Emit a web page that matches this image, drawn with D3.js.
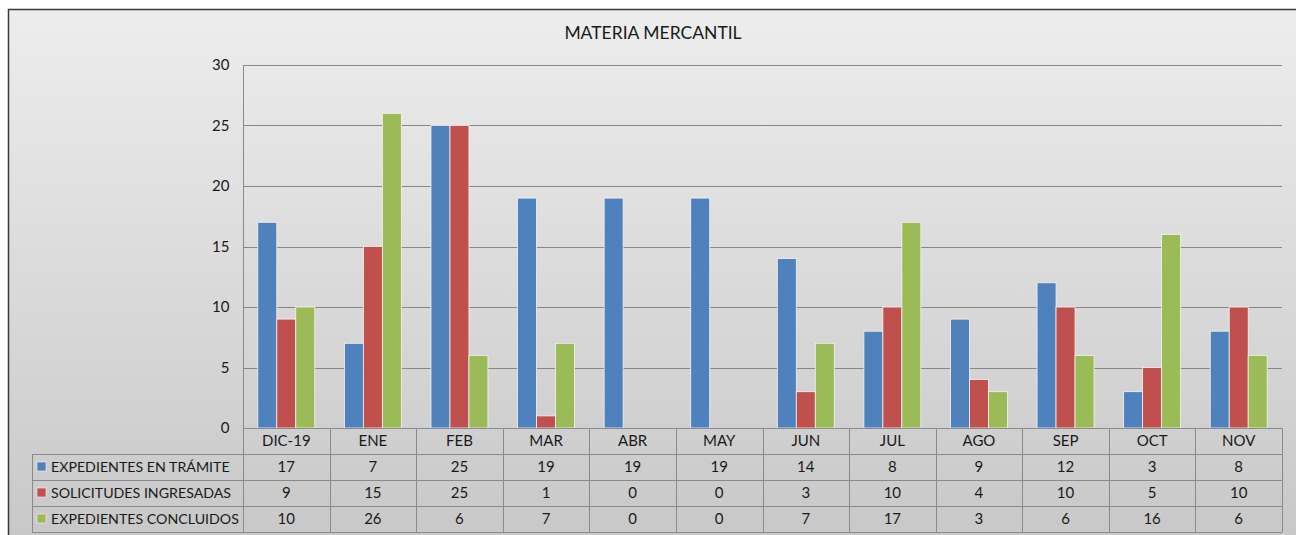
<!DOCTYPE html>
<html>
<head>
<meta charset="utf-8">
<script src="https://cdn.jsdelivr.net/npm/d3@7"></script>
<style>
  body { margin: 0; background: #fff; }
  text { font-family: Lato, "Open Sans", sans-serif; fill: #1a1a1a; }
</style>
</head>
<body>
<div id="chart"></div>
<script>
// chart data
const months = ['DIC-19', 'ENE', 'FEB', 'MAR', 'ABR', 'MAY', 'JUN', 'JUL', 'AGO', 'SEP', 'OCT', 'NOV'];
const seriesNames = ['EXPEDIENTES EN TRÁMITE', 'SOLICITUDES INGRESADAS', 'EXPEDIENTES CONCLUIDOS'];
const enTramite = [17, 7, 25, 19, 19, 19, 14, 8, 9, 12, 3, 8];
const ingresadas = [9, 15, 25, 1, 0, 0, 3, 10, 4, 10, 5, 10];
const concluidos = [10, 26, 6, 7, 0, 0, 7, 17, 3, 6, 16, 6];
const yTicks = [0, 5, 10, 15, 20, 25, 30];
const colors = ['#4f81bd', '#c0504d', '#9bbb59'];

const width = 1296, height = 535;
const plot = { left: 243, right: 1282, top: 65, bottom: 428 };
const rowH = 26;

const svg = d3.select('#chart').append('svg')
  .attr('width', width).attr('height', height);

// background gradient like the excel chart area
const grad = svg.append('defs').append('linearGradient')
  .attr('id', 'bg').attr('x1', 0).attr('y1', 0).attr('x2', 0).attr('y2', 1);
grad.append('stop').attr('offset', '0%').attr('stop-color', '#ededed');
grad.append('stop').attr('offset', '100%').attr('stop-color', '#c6c6c6');

svg.append('rect')
  .attr('x', 8.5).attr('y', 9.5)
  .attr('width', 1400).attr('height', 560)
  .attr('fill', 'url(#bg)')
  .attr('stroke', '#3a3a3a').attr('stroke-width', 1.5);

svg.append('text')
  .attr('x', 653).attr('y', 39)
  .attr('text-anchor', 'middle')
  .style('font-size', '17.5px')
  .text('MATERIA MERCANTIL');

// scales
const x = d3.scaleBand().domain(months).range([plot.left, plot.right]);
const x1 = d3.scaleBand().domain(seriesNames).range([0, x.bandwidth()]).paddingOuter(0.78);
const y = d3.scaleLinear().domain([0, 30]).range([plot.bottom, plot.top]);

// gridlines
svg.append('g').selectAll('line').data(yTicks.filter(d => d > 0)).enter().append('line')
  .attr('x1', plot.left).attr('x2', plot.right)
  .attr('y1', d => Math.round(y(d)) + 0.5).attr('y2', d => Math.round(y(d)) + 0.5)
  .attr('stroke', '#878787');

// y axis
const yAxis = d3.axisLeft(y).tickValues(yTicks).tickSize(0).tickPadding(14);
const gy = svg.append('g').attr('transform', `translate(${plot.left + 0.5},0)`).call(yAxis);
gy.select('.domain').remove();
gy.selectAll('text').style('font-size', '15px').attr('fill', '#1a1a1a');

// bars
const series = [enTramite, ingresadas, concluidos];
series.forEach((vals, si) => {
  svg.append('g').selectAll('rect').data(vals).enter().append('rect')
    .attr('x', (d, i) => x(months[i]) + x1(seriesNames[si]))
    .attr('y', d => y(d))
    .attr('width', x1.bandwidth())
    .attr('height', d => y(0) - y(d))
    .attr('fill', colors[si])
    .attr('stroke', d => d > 0 ? '#f4f4f4' : 'none')
    .attr('stroke-width', 0.8);
});

// data table
const table = svg.append('g');
const lineColor = '#8a8a8a';
const tableBottom = plot.bottom + rowH * 4;

// vertical axis line continues through table
table.append('line')
  .attr('x1', plot.left + 0.5).attr('x2', plot.left + 0.5)
  .attr('y1', plot.top).attr('y2', tableBottom)
  .attr('stroke', lineColor);

// horizontal lines
table.append('line')
  .attr('x1', plot.left).attr('x2', plot.right)
  .attr('y1', plot.bottom + 0.5).attr('y2', plot.bottom + 0.5)
  .attr('stroke', lineColor);
[1, 2, 3, 4].forEach(r => {
  table.append('line')
    .attr('x1', 32).attr('x2', plot.right)
    .attr('y1', plot.bottom + r * rowH + 0.5).attr('y2', plot.bottom + r * rowH + 0.5)
    .attr('stroke', lineColor);
});
table.append('line')
  .attr('x1', 32.5).attr('x2', 32.5)
  .attr('y1', plot.bottom + rowH).attr('y2', tableBottom)
  .attr('stroke', lineColor);

// column separators
table.selectAll('.col').data(months).enter().append('line')
  .attr('x1', d => Math.round(x(d) + x.bandwidth()) + 0.5)
  .attr('x2', d => Math.round(x(d) + x.bandwidth()) + 0.5)
  .attr('y1', plot.bottom).attr('y2', tableBottom)
  .attr('stroke', lineColor);

// month labels
table.selectAll('.month').data(months).enter().append('text')
  .attr('x', d => x(d) + x.bandwidth() / 2)
  .attr('y', plot.bottom + rowH / 2 + 5)
  .attr('text-anchor', 'middle')
  .style('font-size', '15px')
  .text(d => d);

// value rows + legend keys
series.forEach((vals, si) => {
  const cy = plot.bottom + rowH * (si + 1) + rowH / 2;
  table.append('rect')
    .attr('x', 37).attr('y', cy - 5)
    .attr('width', 9).attr('height', 9)
    .attr('fill', colors[si]).attr('stroke', '#f4f4f4').attr('stroke-width', 0.6);
  table.append('text')
    .attr('x', 51).attr('y', cy + 5)
    .style('font-size', '14.2px')
    .text(seriesNames[si]);
  table.append('g').selectAll('text').data(vals).enter().append('text')
    .attr('x', (d, i) => x(months[i]) + x.bandwidth() / 2)
    .attr('y', cy + 5)
    .attr('text-anchor', 'middle')
    .style('font-size', '15px')
    .text(d => d);
});
</script>
</body>
</html>
